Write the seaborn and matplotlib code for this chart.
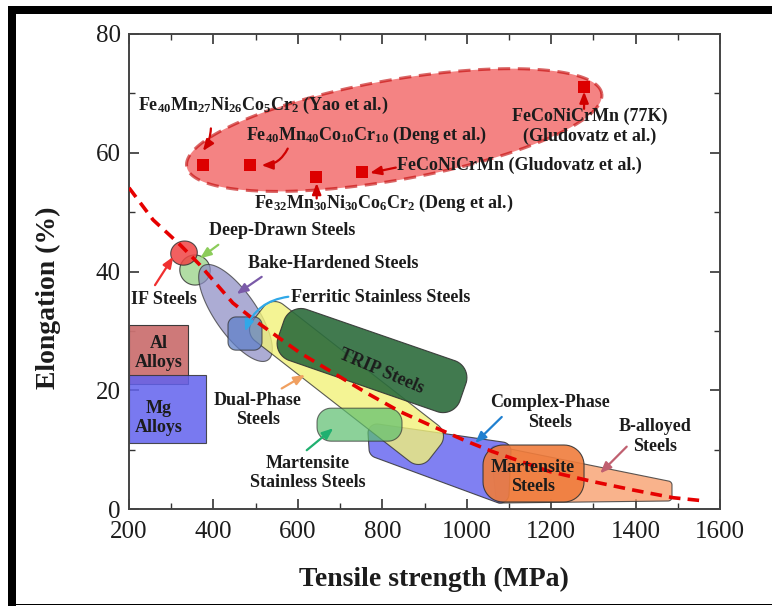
import numpy as np
import pandas as pd
import seaborn as sns
import matplotlib
matplotlib.use("Agg")
import matplotlib.pyplot as plt
from matplotlib.patches import Polygon, Rectangle
from matplotlib.ticker import MultipleLocator

# ---------------- data ----------------
x_ticks = [200, 400, 600, 800, 1000, 1200, 1400, 1600]
y_ticks = [0, 20, 40, 60, 80]

# high-entropy alloy points (tensile strength MPa, elongation %)
hea_strength = [375, 487, 643, 751, 1278]
hea_elong = [58.0, 58.0, 56.0, 56.7, 71.1]

# dashed trend line of conventional steels
fit_strength = [200, 257, 321, 368, 446, 503, 605, 764, 842, 920, 1000, 1060,
                1197, 1300, 1394, 1489, 1565]
fit_elong = [54.1, 48.7, 44.5, 41.1, 34.7, 31.5, 26.3, 19.5, 16.4, 13.9, 11.4, 9.7,
             6.3, 4.6, 3.2, 1.9, 1.35]

# material classes (ranges: strength MPa, elongation %)
al_strength = [200, 340]
al_elong = [21.1, 31.0]
mg_strength = [200, 382]
mg_elong = [11.1, 22.6]

# ---------------- style ----------------
sns.set_theme(style="white")
plt.rcParams["font.family"] = ["Liberation Serif", "DejaVu Serif"]
plt.rcParams["mathtext.fontset"] = "custom"
plt.rcParams["mathtext.rm"] = "Liberation Serif:bold"
plt.rcParams["mathtext.bf"] = "Liberation Serif:bold"
plt.rcParams["mathtext.it"] = "Liberation Serif:bold"
plt.rcParams["mathtext.default"] = "bf"

TXT = "#1c1c1c"
W, H = 772, 606
fig = plt.figure(figsize=(W / 100, H / 100), dpi=100)
fig.patch.set_facecolor("white")
ax = fig.add_axes([129 / W, 97 / H, 591 / W, 475 / H])
ax.set_xlim(200, 1600)
ax.set_ylim(0, 80)

to_disp = ax.transData.transform
to_data = ax.transData.inverted().transform


def hull(pts):
    pts = sorted(map(tuple, pts))
    def cross(o, a, b):
        return (a[0] - o[0]) * (b[1] - o[1]) - (a[1] - o[1]) * (b[0] - o[0])
    lower, upper = [], []
    for p in pts:
        while len(lower) >= 2 and cross(lower[-2], lower[-1], p) <= 0:
            lower.pop()
        lower.append(p)
    for p in reversed(pts):
        while len(upper) >= 2 and cross(upper[-2], upper[-1], p) <= 0:
            upper.pop()
        upper.append(p)
    return np.array(lower[:-1] + upper[:-1])


def rounded(core_data, r, **kw):
    core = to_disp(np.asarray(core_data, float))
    t = np.linspace(0, 2 * np.pi, 48, endpoint=False)
    circ = np.c_[np.cos(t), np.sin(t)] * r
    pts = np.vstack([c + circ for c in core])
    poly = to_data(hull(pts))
    ax.add_patch(Polygon(poly, closed=True, **kw))


def band(p0, p1, hw, r, **kw):
    a, b = to_disp(np.asarray([p0, p1], float))
    d = (b - a) / np.linalg.norm(b - a)
    n = np.array([-d[1], d[0]])
    a2, b2 = a + d * r, b - d * r
    h = hw - r
    core = [a2 + n * h, a2 - n * h, b2 - n * h, b2 + n * h]
    rounded(to_data(np.array(core)), r, **kw)


def ellipse(p0, p1, hw, **kw):
    a, b = to_disp(np.asarray([p0, p1], float))
    c = (a + b) / 2
    L = np.linalg.norm(b - a) / 2
    d = (b - a) / (2 * L)
    n = np.array([-d[1], d[0]])
    t = np.linspace(0, 2 * np.pi, 200)
    pts = c + np.outer(np.cos(t) * L, d) + np.outer(np.sin(t) * hw, n)
    ax.add_patch(Polygon(to_data(pts), closed=True, **kw))


EDGE = dict(edgecolor="#333333", linewidth=0.8)

# Al / Mg alloys
ax.add_patch(Rectangle((al_strength[0], al_elong[0]), al_strength[1] - al_strength[0],
                       al_elong[1] - al_elong[0], facecolor="#cc7272", alpha=0.95, **EDGE, zorder=2))
ax.add_patch(Rectangle((mg_strength[0], mg_elong[0]), mg_strength[1] - mg_strength[0],
                       mg_elong[1] - mg_elong[0], facecolor="#6262ee", alpha=0.85, **EDGE, zorder=2))

# steels
rounded([(1067, 9.94), (1476.8, 4.04), (1476.8, 2.02), (1078.9, 1.68)], 4,
        facecolor="#f8a070", alpha=0.8, zorder=2, **EDGE)                       # B-alloyed
rounded([(787.5, 12.8), (1083.6, 9.77), (1078.9, 2.53), (789.9, 10.1)], 9,
        facecolor="#6a6af0", alpha=0.85, zorder=2, **EDGE)                      # complex phase
rounded([(1086, 7.41), (1230.5, 7.41), (1230.5, 4.55), (1086, 4.55)], 20,
        facecolor="#f07c3c", alpha=0.9, zorder=3, **EDGE)                       # martensite
ellipse((323.2, 41.26), (389.5, 39.24), 15, facecolor="#a4d894", alpha=0.85, zorder=3, **EDGE)  # deep drawn
ellipse((299.5, 42.6), (361.1, 43.6), 12, facecolor="#f04444", alpha=0.85, zorder=4, **EDGE)    # IF
ellipse((375.3, 40.93), (529.3, 25.1), 21, facecolor="#8c8cc4", alpha=0.72, zorder=4, **EDGE)   # bake hardened
band((505.6, 32.84), (924.9, 9.6), 23, 14, facecolor="#f2f27a", alpha=0.8, zorder=5, **EDGE)   # dual phase
rounded([(453.5, 31.0), (496.1, 31.0), (496.1, 28.1), (453.5, 28.1)], 8,
        facecolor="#6080c8", alpha=0.75, zorder=6, **EDGE)                      # ferritic
band((560.1, 30.3), (991.2, 19.7), 27, 18, facecolor="#2c6c3c", alpha=0.9, zorder=6, **EDGE)    # TRIP
band((645.4, 14.2), (846.7, 14.2), 16.5, 14, facecolor="#5cbe6e", alpha=0.7, zorder=6, **EDGE)  # mart. stainless

# HEA region
ellipse((336.7, 57.65), (1319.8, 70.0), 50, facecolor="#ee3030", alpha=0.6,
        edgecolor="#c00000", linewidth=2.2, linestyle=(0, (4, 2.5)), zorder=7)

# trend line and HEA points via seaborn
fit_df = pd.DataFrame({"strength": fit_strength, "elong": fit_elong})
sns.lineplot(data=fit_df, x="strength", y="elong", ax=ax, color="#e60000", lw=2.6,
             dashes=False, sort=False, zorder=9)
ax.lines[-1].set_dashes((3.2, 2.0))
hea_df = pd.DataFrame({"strength": hea_strength, "elong": hea_elong})
sns.scatterplot(data=hea_df, x="strength", y="elong", ax=ax, marker="s", s=70,
                color="#dd0000", edgecolor="#dd0000", linewidth=0, zorder=10)

# ---------------- labels ----------------
FS = 13
labels = [
    (r"Fe$_{40}$Mn$_{27}$Ni$_{26}$Co$_{5}$Cr$_{2}$ (Yao et al.)", 222, 68.0, "left", 0),
    (r"Fe$_{40}$Mn$_{40}$Co$_{10}$Cr$_{10}$ (Deng et al.)", 476.5, 63.0, "left", 0),
    ("FeCoNiCrMn (Gludovatz et al.)", 834, 57.85, "left", 0),
    (r"Fe$_{32}$Mn$_{30}$Ni$_{30}$Co$_{6}$Cr$_{2}$ (Deng et al.)", 497, 51.5, "left", 0),
    ("FeCoNiCrMn (77K)\n(Gludovatz et al.)", 1292, 64.5, "center", 0),
    ("Deep-Drawn Steels", 563.6, 46.9, "center", 0),
    ("IF Steels", 283, 35.3, "center", 0),
    ("Bake-Hardened Steels", 684, 41.4, "center", 0),
    ("Ferritic Stainless Steels", 796.6, 35.65, "center", 0),
    ("TRIP Steels", 798.6, 23.1, "center", -23),
    ("Dual-Phase\nSteels", 505.6, 16.7, "center", 0),
    ("Martensite\nStainless Steels", 624, 6.06, "center", 0),
    ("Complex-Phase\nSteels", 1197, 16.25, "center", 0),
    ("B-alloyed\nSteels", 1447, 12.2, "center", 0),
    ("Martensite\nSteels", 1157, 5.4, "center", 0),
    ("Al\nAlloys", 271, 26.3, "center", 0),
    ("Mg\nAlloys", 271, 15.3, "center", 0),
]
for txt, x, y, ha, rot in labels:
    ax.text(x, y, txt, ha=ha, va="center", multialignment="center", fontsize=FS,
            fontweight="bold", color=TXT, rotation=rot, rotation_mode="anchor",
            linespacing=1.2, zorder=11)

arrows = [
    ((394, 64.1), (375, 60.3), "#d00000", -0.15),
    ((576, 60.7), (514, 57.9), "#d00000", -0.3),
    ((832, 57.5), (771, 56.6), "#d00000", 0.0),
    ((644.6, 52.3), (644.6, 54.9), "#d00000", 0.0),
    ((1278, 67.4), (1278, 70.3), "#d00000", 0.0),
    ((411.6, 44.5), (368, 42.2), "#8ccc5a", 0.0),
    ((261.6, 37.7), (305, 42.5), "#f03030", 0.0),
    ((514.3, 39.1), (455, 36.2), "#7a5aa8", 0.0),
    ((577.4, 35.75), (474.8, 29.9), "#30a8e8", 0.3),
    ((561.7, 20.3), (617, 22.6), "#f0a060", 0.0),
    ((621, 9.9), (684, 13.6), "#20b070", 0.0),
    ((1083, 15.5), (1020, 11.1), "#2080d0", 0.0),
    ((1379, 10.5), (1316, 6.0), "#c06070", 0.0),
]
for tail, tip, c, rad in arrows:
    ax.annotate("", xy=tip, xytext=tail,
                arrowprops=dict(arrowstyle="-|>,head_length=0.55,head_width=0.22", color=c,
                                lw=1.6, shrinkA=0, shrinkB=0,
                                connectionstyle=f"arc3,rad={rad}"), zorder=11)

# ---------------- axes ----------------
ax.set_xticks(x_ticks)
ax.set_xticklabels([str(v) for v in x_ticks])
ax.set_yticks(y_ticks)
ax.set_yticklabels([str(v) for v in y_ticks])
ax.xaxis.set_minor_locator(MultipleLocator(100))
ax.yaxis.set_minor_locator(MultipleLocator(10))
ax.tick_params(which="both", direction="in", top=True, right=True, bottom=True, left=True,
               color="#333333")
ax.tick_params(which="major", length=7, width=1.2, labelsize=18, pad=6, labelcolor=TXT)
ax.tick_params(axis="x", which="major", pad=9)
ax.tick_params(which="minor", length=4, width=1.0)
for s in ax.spines.values():
    s.set_color("#444444")
    s.set_linewidth(1.4)
    s.set_visible(True)
ax.set_facecolor("white")
ax.grid(False)
ax.set_xlabel("Tensile strength (MPa)", fontsize=20, fontweight="bold", color=TXT)
ax.set_ylabel("Elongation (%)", fontsize=20, fontweight="bold", color=TXT)
ax.xaxis.label.set_va("center")
ax.yaxis.label.set_va("center")
ax.xaxis.set_label_coords(0.516, -0.149)
ax.yaxis.set_label_coords(-0.137, 0.445)

# outer black frame of the picture
fig.add_artist(Rectangle((8 / W, 0), 8 / W, 600 / H, transform=fig.transFigure,
                         facecolor="black", edgecolor="none"))
fig.add_artist(Rectangle((8 / W, 592 / H), 764 / W, 8 / H, transform=fig.transFigure,
                         facecolor="black", edgecolor="none"))
fig.add_artist(Rectangle((8 / W, 1 / H), 764 / W, 1.2 / H, transform=fig.transFigure,
                         facecolor="black", edgecolor="none"))

fig.savefig("out.png", dpi=100)
